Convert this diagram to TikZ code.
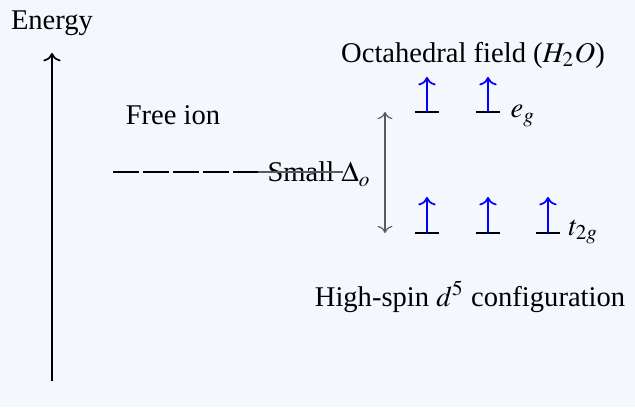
\documentclass[tikz,border=0pt]{standalone}
\usepackage{amsmath}
\usepackage{mathptmx}
\usepackage{fontspec}
\setmainfont{Liberation Serif}
\usepackage{tikz}
\usetikzlibrary{arrows.meta,calc}
\usepackage{xcolor}
\definecolor{paleback}{RGB}{244,248,254}
\definecolor{spinblue}{RGB}{0,0,255}
\definecolor{splitgrey}{RGB}{90,90,90}

\tikzset{
  level/.style={thick,black},
  spin/.style={->,semithick,spinblue},
  lab/.style={inner sep=0pt}
}

\begin{document}
\begin{tikzpicture}[x=0.35pt,y=0.35pt,font=\normalsize]
    % Background / frame
    \fill[paleback] (0,0) rectangle (635,407);
    \useasboundingbox (0,0) rectangle (635,407);
    % Energy axis
    \node (energy) at (52,384) {Energy};
    \coordinate (axbot) at (52,26);
    \coordinate (axtop) at (52,354);
    \draw[->,semithick] (axbot) -- (axtop);
    % Free ion level
    \node (freeion) at (173,292) {Free ion};
    \coordinate (fl) at (113,235);
    \coordinate (fr) at (258,235);
    \coordinate (fe) at (343,235);
    \node[lab,anchor=base west] (small) at (267,225) {Small $\Delta_o$};
    \draw[line width=0.9pt,dash pattern=on 9pt off 1.5pt] (fl) -- (fr);
    \draw[splitgrey,thin] (fr) -- (fe);
    % Splitting
    \coordinate (splittop) at (385,295);
    \coordinate (splitbot) at (385,174);
    \draw[<->,splitgrey,thin] (splittop) -- (splitbot);
    % Octahedral levels
    \node (octa) at (473,352) {Octahedral field ($H_2O$)};
    \foreach \x/\n in {427/1, 488/2}{
      \coordinate (eg\n) at (\x,295);
      \draw[level] ($(eg\n)+(-12,0)$) -- ($(eg\n)+(12,0)$);
      \draw[spin] (eg\n) -- ++(0,35);
    }
    \foreach \x/\n in {427/1, 488/2, 548/3}{
      \coordinate (tg\n) at (\x,174);
      \draw[level] ($(tg\n)+(-12,0)$) -- ($(tg\n)+(12,0)$);
      \draw[spin] (tg\n) -- ++(0,36);
    }
    \node[lab,anchor=base west] (eg) at (510,289) {$e_g$};
    \node[lab,anchor=base west] (ttwog) at (568,172) {$t_{2g}$};
    % Configuration
    \node (config) at (470,110) {High-spin $d^5$ configuration};
  \end{tikzpicture}
\end{document}
